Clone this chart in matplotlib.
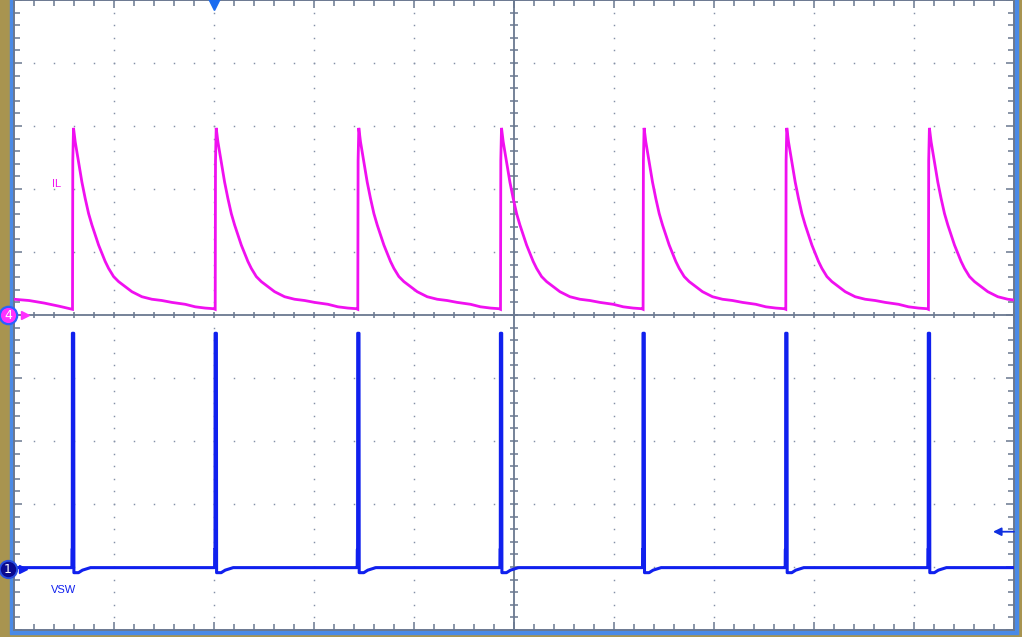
import matplotlib.pyplot as plt
from matplotlib.patches import Rectangle

# screen is 10 x 10 divisions; x in div from left edge, y in div from centre line
rise_times = [0.585, 2.012, 3.438, 4.865, 6.291, 7.718, 9.144]

# IL (ch4) - one switching cycle: time after rising edge, level
il_cycle_t = [0.000, 0.003, 0.010, 0.027, 0.061, 0.094, 0.127, 0.161, 0.194, 0.227,
              0.261, 0.294, 0.327, 0.361, 0.411, 0.461, 0.527, 0.594, 0.694, 0.794,
              0.894, 0.994, 1.127, 1.227, 1.327, 1.411]
il_cycle_v = [0.09, 2.45, 2.97, 2.75, 2.43, 2.11, 1.85, 1.61, 1.43, 1.27,
              1.11, 0.98, 0.85, 0.74, 0.61, 0.53, 0.45, 0.37, 0.29, 0.25,
              0.23, 0.20, 0.17, 0.13, 0.11, 0.10]
# IL before the first edge on screen
il_lead_t = [0.00, 0.15, 0.30, 0.45, 0.584]
il_lead_v = [0.25, 0.23, 0.19, 0.14, 0.09]

# VSW (ch1) - one switching cycle
vsw_cycle_t = [-0.006, -0.005, -0.002, -0.001, 0.012, 0.014, 0.060, 0.100, 0.180, 1.400]
vsw_cycle_v = [-4.01, -3.72, -3.72, -0.29, -0.29, -4.09, -4.09, -4.05, -4.01, -4.01]
vsw_lead_t = [0.00, 0.57]
vsw_lead_v = [-4.01, -4.01]

il_color = '#f010f0'
vsw_color = '#1020ee'
grid_color = '#8490a8'
axis_color = '#6a7890'

il_x, il_y = list(il_lead_t), list(il_lead_v)
vsw_x, vsw_y = list(vsw_lead_t), list(vsw_lead_v)
for r in rise_times:
    il_x += [r + t for t in il_cycle_t]
    il_y += il_cycle_v
    vsw_x += [r + t for t in vsw_cycle_t]
    vsw_y += vsw_cycle_v

fig = plt.figure(figsize=(10.22, 6.37), dpi=100, facecolor='#a89450')
# blue frame around the graticule
fig.patches.append(Rectangle((10 / 1022, 3 / 637), 1008 / 1022, 1.0,
                             transform=fig.transFigure, color='#4a8ae6', zorder=0))
ax = fig.add_axes([14 / 1022, 7 / 637, 1000 / 1022, 630 / 637])
ax.set_zorder(2)
ax.set_facecolor('white')
ax.set_xlim(0, 10)
ax.set_ylim(-5, 5)

# dotted graticule
steps_x = [i * 0.2 for i in range(51)]
steps_y = [-5 + i * 0.2 for i in range(51)]
for gx in [1, 2, 3, 4, 6, 7, 8, 9]:
    ax.plot([gx] * len(steps_y), steps_y, ls='none', marker='s', ms=1.05,
            mew=0, color=grid_color, zorder=1)
for gy in [-4, -3, -2, -1, 1, 2, 3, 4]:
    ax.plot(steps_x, [gy] * len(steps_x), ls='none', marker='s', ms=1.05,
            mew=0, color=grid_color, zorder=1)

# centre axes with ticks
ax.axhline(0, color=axis_color, lw=1.3, zorder=1)
ax.axvline(5, color=axis_color, lw=1.3, zorder=1)
ax.plot(steps_x, [0] * len(steps_x), ls='none', marker='|', ms=5,
        mew=1.1, color=axis_color, zorder=1)
ax.plot([5] * len(steps_y), steps_y, ls='none', marker='_', ms=6,
        mew=1.1, color=axis_color, zorder=1)

# border ticks
for s in ax.spines.values():
    s.set_color(axis_color)
    s.set_linewidth(1.4)
ax.set_xticks(range(11))
ax.set_yticks(range(-5, 6))
ax.set_xticks(steps_x, minor=True)
ax.set_yticks(steps_y, minor=True)
ax.tick_params(which='both', direction='in', top=True, right=True,
               labelbottom=False, labelleft=False, color=axis_color, width=1.1)
ax.tick_params(which='major', length=6)
ax.tick_params(which='minor', length=4)

# traces
ax.plot(il_x, il_y, color=il_color, lw=2.0, zorder=3, solid_joinstyle='miter')
ax.plot(vsw_x, vsw_y, color=vsw_color, lw=2.2, zorder=3)

ax.text(0.38, 2.08, 'IL', color=il_color, fontsize=8, family='Liberation Sans',
        va='center', ha='left')
ax.text(0.37, -4.37, 'VSW', color=vsw_color, fontsize=8, family='Liberation Sans',
        va='center', ha='left')

# channel ground markers
ax.plot([-0.06], [0], marker='o', ms=12.5, mfc='#ff30ff', mec='#2a60ff', mew=1.6,
        clip_on=False, zorder=5)
ax.text(-0.06, -0.01, '4', color='white', fontsize=9, ha='center', va='center',
        zorder=6, clip_on=False)
ax.plot([0.105], [0], marker='>', ms=6, color='#ff30ff', clip_on=False, zorder=5)

ax.plot([-0.06], [-4.03], marker='o', ms=12.5, mfc='#0a0a90', mec='#2a50e0', mew=1.4,
        clip_on=False, zorder=5)
ax.text(-0.06, -4.04, '1', color='white', fontsize=9, ha='center', va='center',
        zorder=6, clip_on=False)
ax.plot([0.09], [-4.03], marker='>', ms=6, color=vsw_color, clip_on=False, zorder=5)

# trigger position and trigger level
ax.plot([2.0], [4.93], marker='v', ms=8, color='#1a6cf0', clip_on=False, zorder=5)
ax.annotate('', xy=(9.79, -3.44), xytext=(10.0, -3.44),
            arrowprops=dict(arrowstyle='-|>', color='#1030e0', lw=1.3,
                            mutation_scale=12, shrinkA=0, shrinkB=0), zorder=5)

fig.savefig('out.png', dpi=100, facecolor=fig.get_facecolor())
